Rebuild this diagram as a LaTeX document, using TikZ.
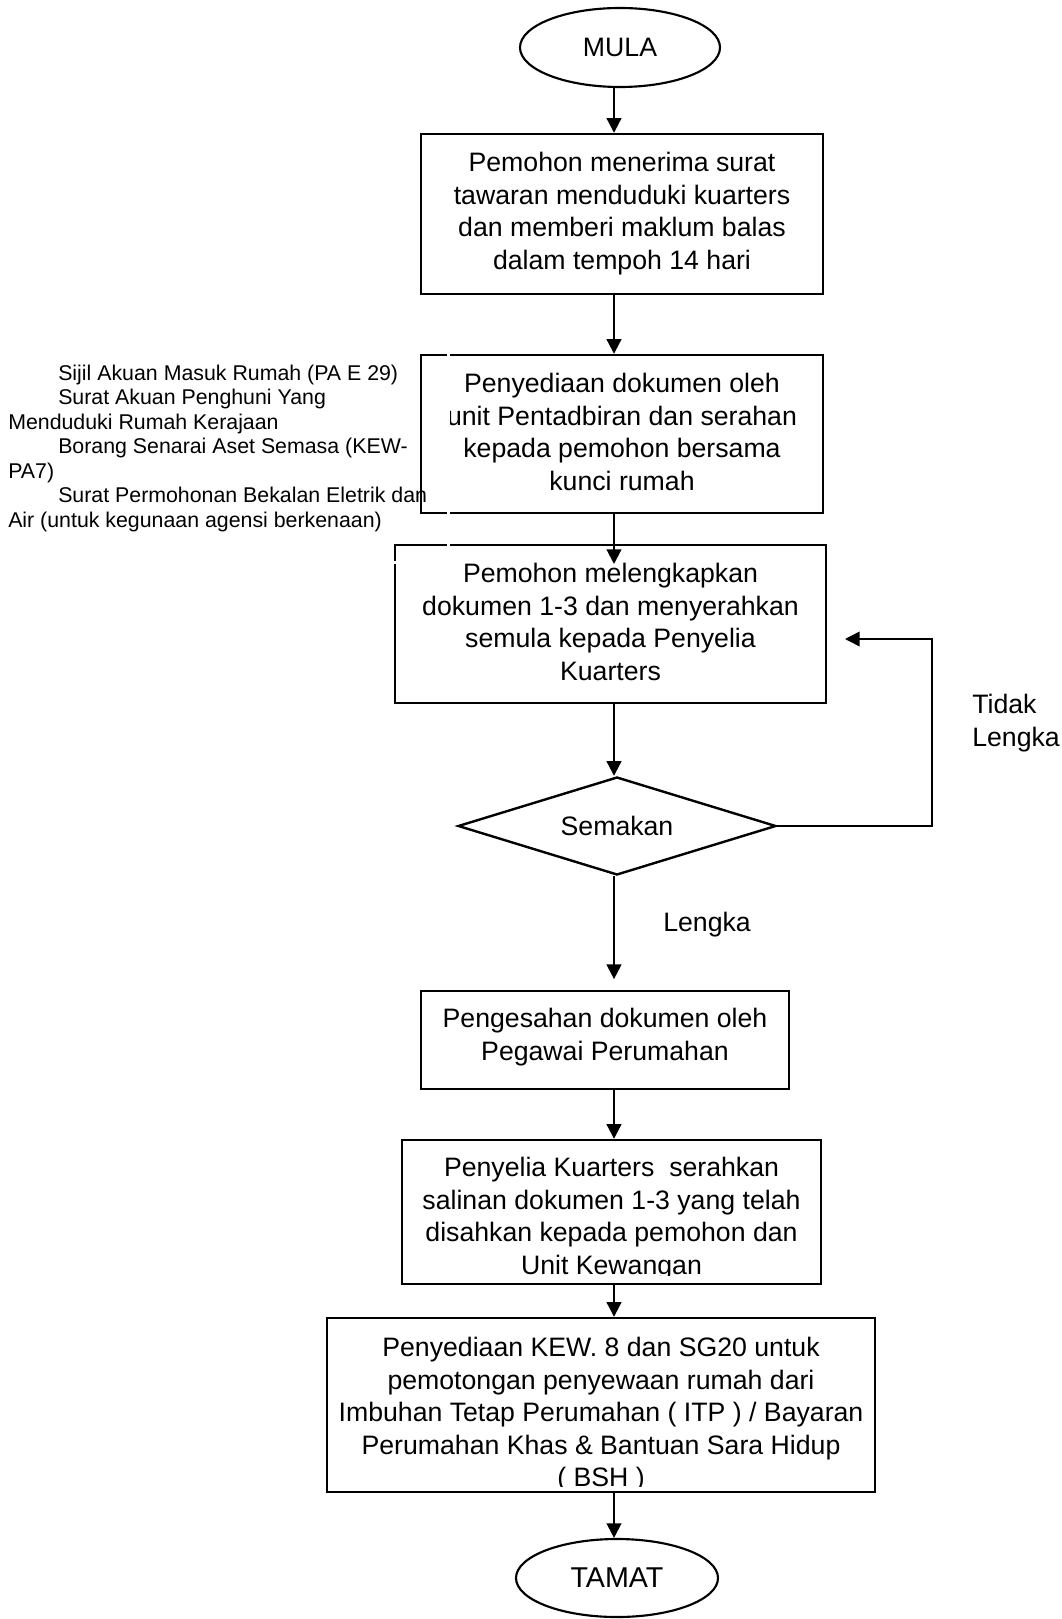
\documentclass[tikz,border=0pt]{standalone}
\usepackage{fontspec}
\setmainfont{Liberation Sans}
\usetikzlibrary{shapes.geometric, arrows.meta, calc}

\begin{document}
\begin{tikzpicture}[x=0.75pt, y=-0.75pt,
  boxshape/.style={draw, line width=1.8pt, rectangle, inner sep=0pt},
  btext/.style={align=center, font=\fontsize{20}{24.4}\selectfont, inner sep=0pt, anchor=base},
  plain/.style={align=left, font=\fontsize{20}{24.4}\selectfont, inner sep=0pt, anchor=base west},
  term/.style={draw, ellipse, line width=1.6pt, inner sep=0pt},
  arr/.style={line width=1.6pt, -{Triangle[width=11pt,length=11pt]}},
  looparr/.style={line width=1.2pt, -{Triangle[width=11pt,length=11pt]}},
  sidetext/.style={align=left, font=\fontsize{16}{18.4}\selectfont, inner sep=0pt, anchor=base west},
]
\useasboundingbox[fill=white] (0,0) rectangle (1061,1619);

\coordinate (ax) at (614,0);

% side list of documents (anchored at the baseline of its last line)
\node[sidetext] (docs) at (8,527.2) {\hspace*{37.5pt}Sijil Akuan Masuk Rumah (PA E 29)\\
\hspace*{37.5pt}Surat Akuan Penghuni Yang\\
Menduduki Rumah Kerajaan\\
\hspace*{37.5pt}Borang Senarai Aset Semasa (KEW-\\
PA7)\\
\hspace*{37.5pt}Surat Permohonan Bekalan Eletrik dan\\
Air (untuk kegunaan agensi berkenaan)};

% terminals
\node[term, minimum width=200*0.75pt, minimum height=79*0.75pt, font=\fontsize{20}{24}\selectfont] (mula) at (620,47.5) {MULA};
\node[term, minimum width=202*0.75pt, minimum height=78*0.75pt, font=\fontsize{21.5}{26}\selectfont] (tamat) at (617,1578) {TAMAT};

% boxes (text nodes anchored at the baseline of their last line)
\node[boxshape, minimum width=402*0.75pt, minimum height=160*0.75pt] (b1) at (622,214) {};
\node[btext] (t1) at (622,269.1) {Pemohon menerima surat\\tawaran menduduki kuarters\\dan memberi maklum balas\\dalam tempoh 14 hari};

\node[boxshape, minimum width=402*0.75pt, minimum height=158*0.75pt] (b2) at (622,434) {};
\node[btext] (t2) at (622,490.1) {Penyediaan dokumen oleh\\unit Pentadbiran dan serahan\\kepada pemohon bersama\\kunci rumah};

\node[boxshape, minimum width=431*0.75pt, minimum height=158*0.75pt] (b3) at (610.5,624) {};
\node[btext] (t3) at (610.5,680.1) {Pemohon melengkapkan\\dokumen 1-3 dan menyerahkan\\semula kepada Penyelia\\Kuarters};

\node[draw, diamond, aspect=3.2, line width=1.8pt, inner sep=0pt, minimum width=318*0.75pt, minimum height=98*0.75pt, font=\fontsize{20}{24}\selectfont] (sem) at (617,826) {Semakan};

\node[boxshape, minimum width=368*0.75pt, minimum height=98*0.75pt] (b4) at (605,1040) {};
\node[btext] (t4) at (605,1060) {Pengesahan dokumen oleh\\Pegawai Perumahan};

\node[boxshape, minimum width=419*0.75pt, minimum height=144*0.75pt] (b5) at (611.5,1212) {};
\begin{scope}
  \clip (b5.north west) rectangle ($(b5.south east)+(0,-10)$);
  \node[btext] (t5) at (611.5,1274.1) {Penyelia Kuarters~ serahkan\\salinan dokumen 1-3 yang telah\\disahkan kepada pemohon dan\\Unit Kewangan};
\end{scope}

\node[boxshape, minimum width=548*0.75pt, minimum height=174*0.75pt] (b6) at (601,1405) {};
\begin{scope}
  \clip (b6.north west) rectangle ($(b6.south east)+(0,-7)$);
  \node[btext] (t6) at (601,1486.6) {Penyediaan KEW. 8 dan SG20 untuk\\pemotongan penyewaan rumah dari\\Imbuhan Tetap Perumahan ( ITP ) / Bayaran\\Perumahan Khas \& Bantuan Sara Hidup\\( BSH )};
\end{scope}

% labels
\node[plain] (tidak) at (972,746.5) {Tidak\\Lengka};
\node[plain] (lengka) at (663,931) {Lengka};

% connectors
\coordinate (b3in) at (614,564);
\coordinate (loopend) at (845,639);
\coordinate (loopx) at (932,0);

\draw[arr] (ax |- mula.south) -- (ax |- b1.north);
\draw[arr] (ax |- b1.south) -- (ax |- b2.north);
\draw[arr] (ax |- b2.south) -- (b3in);
\draw[arr] (ax |- b3.south) -- (ax |- sem.north);
\draw[arr, shorten >=8pt] (ax |- sem.south) -- (ax |- b4.north);
\draw[arr] (ax |- b4.south) -- (ax |- b5.north);
\draw[arr] (ax |- b5.south) -- (ax |- b6.north);
\draw[arr] (ax |- b6.south) -- (ax |- tamat.north);
\draw[looparr] (sem.east) -- (loopx |- sem.east) -- (loopx |- loopend) -- (loopend);

% white outline of the text frame
\node[draw=white, line width=2.2pt, minimum width=446*0.75pt, minimum height=219*0.75pt, inner sep=0pt, anchor=south east] (frame) at (450,564) {};
\end{tikzpicture}
\end{document}
